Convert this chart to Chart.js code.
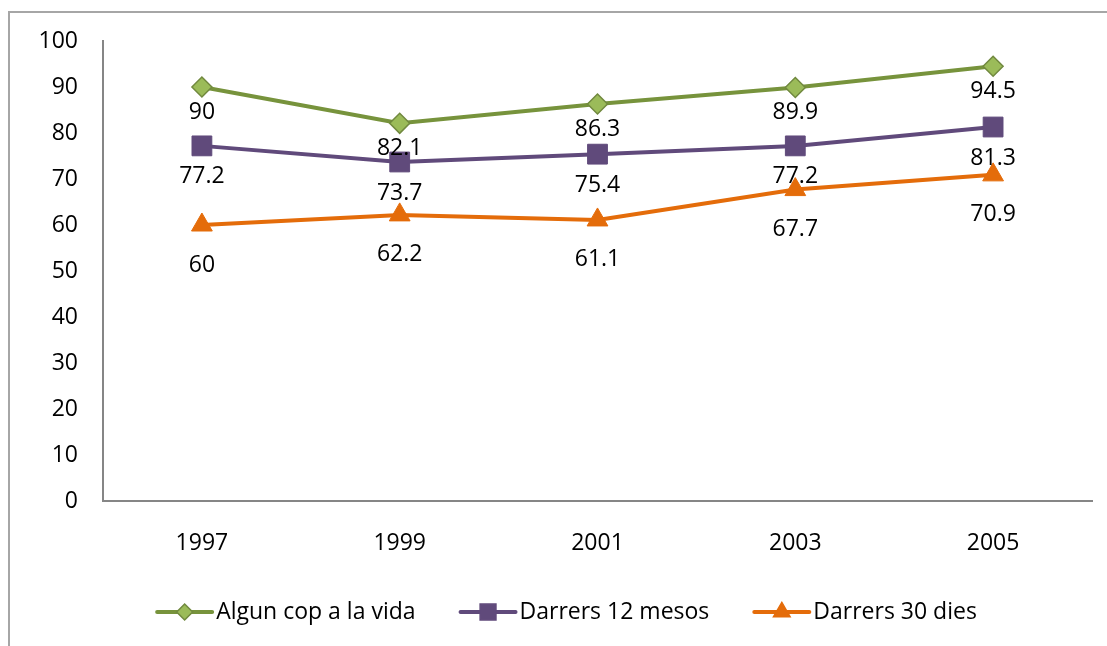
<!DOCTYPE html>
<html>
<head>
<meta charset="utf-8">
<script src="https://cdn.jsdelivr.net/npm/chart.js@4.4.1/dist/chart.umd.min.js"></script>
<style>
  html, body { margin: 0; padding: 0; background: #fff; }
  #wrap { position: relative; width: 1107px; height: 646px; overflow: hidden; }
  #frame { position: absolute; left: 8px; top: 11px; width: 1120px; height: 660px; border: 2px solid #a6a6a6; box-sizing: border-box; }
  #c { position: absolute; left: 0; top: 0; }
</style>
</head>
<body>
<div id="wrap">
  <div id="frame"></div>
  <canvas id="c" width="1107" height="646"></canvas>
</div>
<script>
var years = ['1997', '1999', '2001', '2003', '2005'];
var algunCop = [90, 82.1, 86.3, 89.9, 94.5];
var darrers12 = [77.2, 73.7, 75.4, 77.2, 81.3];
var darrers30 = [60, 62.2, 61.1, 67.7, 70.9];
var seriesNames = ['Algun cop a la vida', 'Darrers 12 mesos', 'Darrers 30 dies'];

var FONT = '"Open Sans", "Noto Sans", sans-serif';
var FSIZE = 23;

// value labels under each point
var valueLabels = {
  id: 'valueLabels',
  afterDatasetsDraw: function(chart) {
    var ctx = chart.ctx;
    ctx.save();
    ctx.font = FSIZE + 'px ' + FONT;
    ctx.fillStyle = '#000';
    ctx.textAlign = 'center';
    ctx.textBaseline = 'middle';
    chart.data.datasets.forEach(function(ds, i) {
      var meta = chart.getDatasetMeta(i);
      meta.data.forEach(function(pt, j) {
        ctx.fillText(String(ds.data[j]), pt.x, pt.y + ds.labelOffset);
      });
    });
    ctx.restore();
  }
};

// legend: line with marker in the middle, then the name
var lineLegend = {
  id: 'lineLegend',
  afterDraw: function(chart) {
    var ctx = chart.ctx;
    var y = 612;
    ctx.save();
    ctx.font = FSIZE + 'px ' + FONT;
    var lineW = 55, gap = 4, spacing = 45;
    var total = 0;
    chart.data.datasets.forEach(function(ds, i) {
      total += lineW + gap + ctx.measureText(ds.label).width;
      if (i > 0) total += spacing;
    });
    var x = 567 - total / 2;
    chart.data.datasets.forEach(function(ds, i) {
      ctx.strokeStyle = ds.borderColor;
      ctx.lineWidth = 4;
      ctx.lineCap = 'round';
      ctx.beginPath();
      ctx.moveTo(x, y);
      ctx.lineTo(x + lineW, y);
      ctx.stroke();
      ctx.fillStyle = ds.pointBackgroundColor;
      ctx.strokeStyle = ds.pointBorderColor;
      ctx.lineWidth = 1.5;
      Chart.helpers.drawPoint(ctx, {pointStyle: ds.pointStyle, radius: ds.pointRadius * 0.8, borderWidth: 1.5}, x + lineW / 2, y);
      ctx.fillStyle = '#000';
      ctx.textAlign = 'left';
      ctx.textBaseline = 'middle';
      ctx.fillText(ds.label, x + lineW + gap, y);
      x += lineW + gap + ctx.measureText(ds.label).width + spacing;
    });
    ctx.restore();
  }
};

new Chart(document.getElementById('c'), {
  type: 'line',
  data: {
    labels: years,
    datasets: [
      {
        label: seriesNames[0], data: algunCop,
        borderColor: '#77933C', borderWidth: 4,
        pointStyle: 'rectRot', pointRadius: 10,
        pointBackgroundColor: '#9BBB59', pointBorderColor: '#71893F', pointBorderWidth: 1.5,
        labelOffset: 25
      },
      {
        label: seriesNames[1], data: darrers12,
        borderColor: '#604A7B', borderWidth: 4,
        pointStyle: 'rect', pointRadius: 14,
        pointBackgroundColor: '#604A7B', pointBorderColor: '#604A7B', pointBorderWidth: 1,
        labelOffset: 31
      },
      {
        label: seriesNames[2], data: darrers30,
        borderColor: '#E46C0A', borderWidth: 4,
        pointStyle: 'triangle', pointRadius: 12,
        pointBackgroundColor: '#E46C0A', pointBorderColor: '#E46C0A', pointBorderWidth: 1,
        labelOffset: 40
      }
    ]
  },
  options: {
    responsive: false,
    animation: false,
    layout: { padding: { top: 41, right: 14, left: 0, bottom: 0 } },
    plugins: { legend: { display: false }, tooltip: { enabled: false } },
    scales: {
      x: {
        offset: true,
        grid: { display: false, drawTicks: false },
        border: { display: true, color: '#868686', width: 2 },
        ticks: { color: '#000', font: { family: FONT, size: FSIZE }, padding: 29 },
        afterFit: function(s) { s.height = 145; }
      },
      y: {
        min: 0, max: 100,
        grid: { display: false, drawTicks: false },
        border: { display: true, color: '#868686', width: 2 },
        ticks: { stepSize: 10, color: '#000', font: { family: FONT, size: FSIZE }, padding: 25 },
        afterFit: function(s) { s.width = 103; }
      }
    }
  },
  plugins: [valueLabels, lineLegend]
});
</script>
</body>
</html>
